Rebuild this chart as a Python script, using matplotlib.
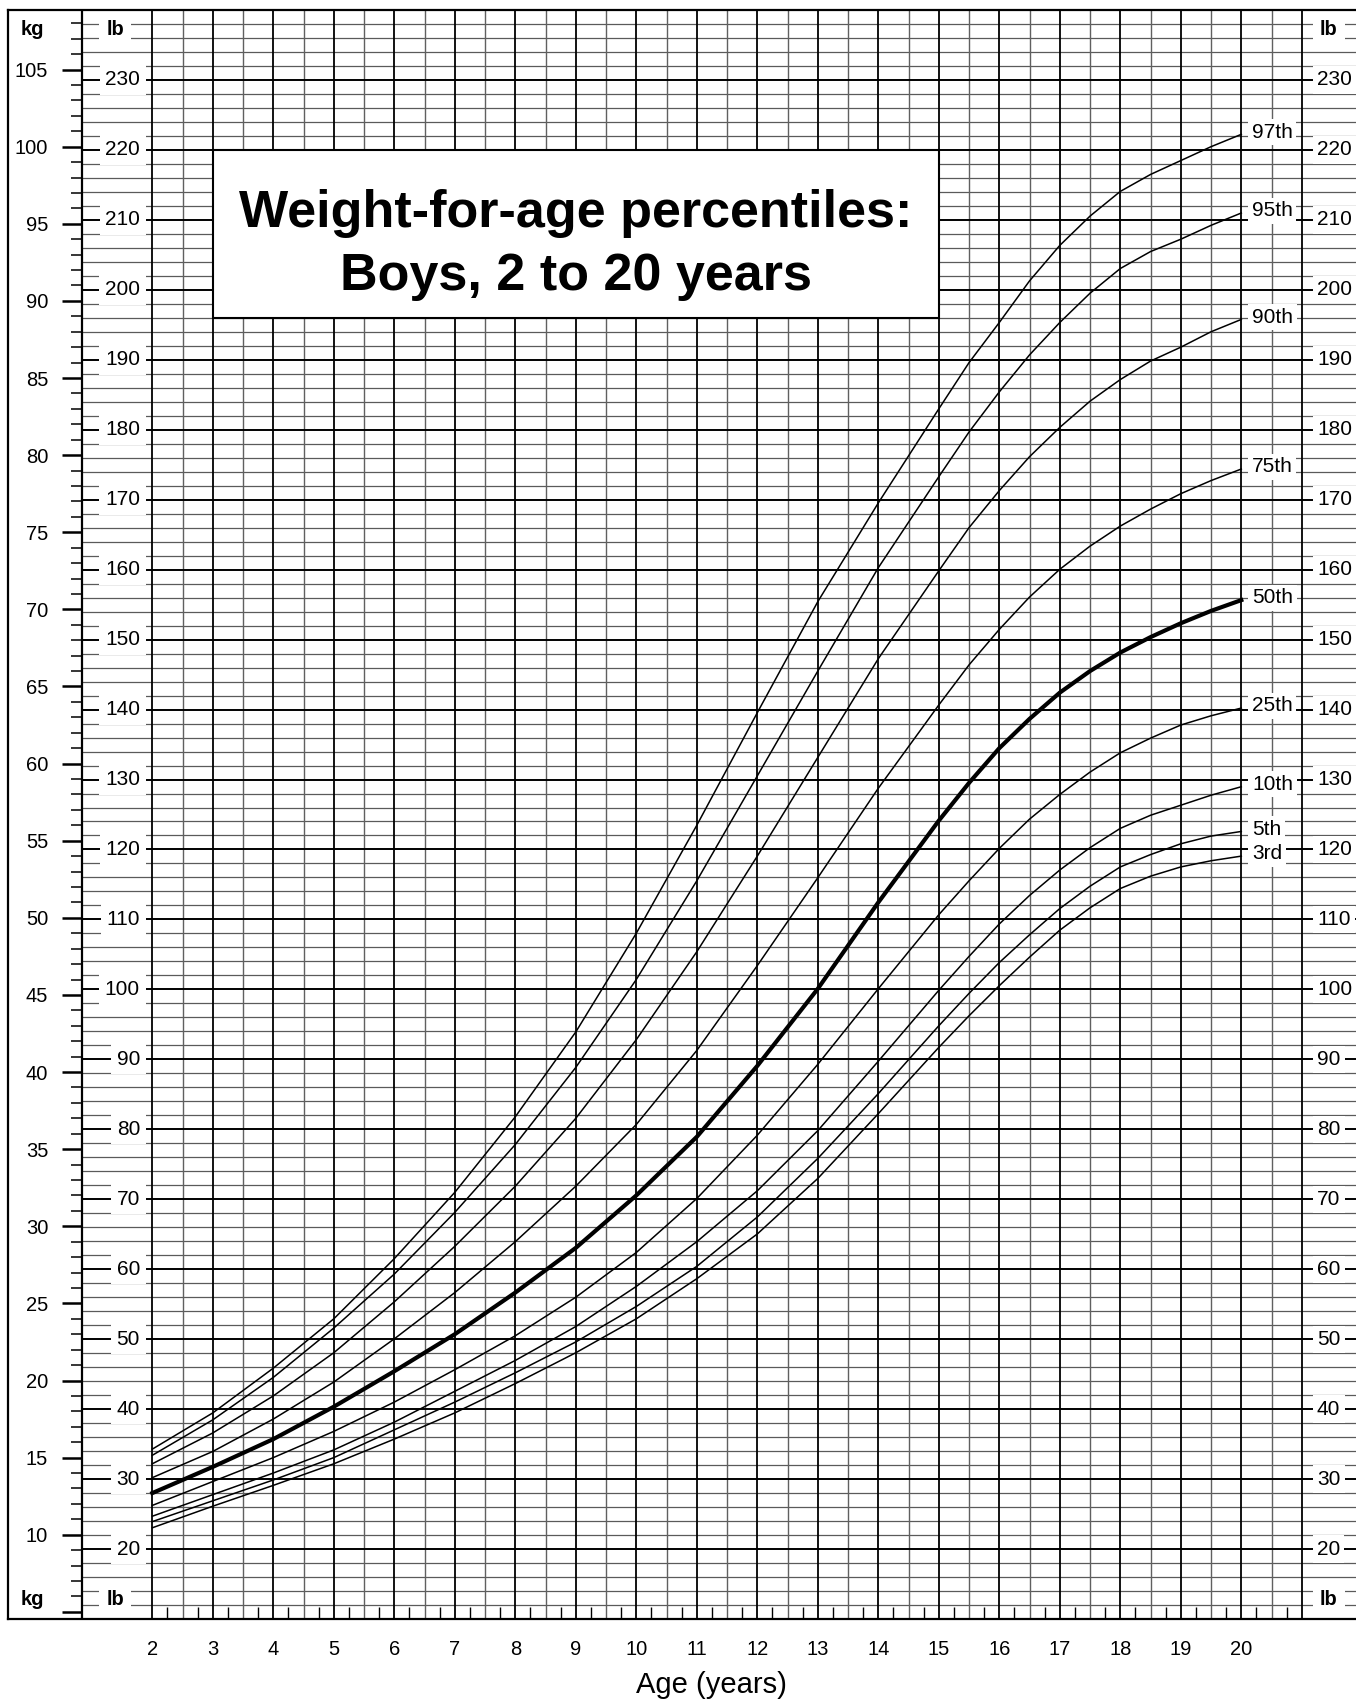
import matplotlib
matplotlib.use("Agg")
import matplotlib.pyplot as plt
from matplotlib.patches import Rectangle
from matplotlib.ticker import FixedLocator, FixedFormatter, NullFormatter, NullLocator

plt.rcParams['font.family'] = ['Liberation Sans', 'DejaVu Sans']

# ---------------- data (kg) ----------------
ages = [2, 3, 4, 5, 6, 7, 8, 9, 10, 11, 12, 13, 14, 15, 15.5, 16, 16.5, 17, 17.5, 18, 18.5, 19, 19.5, 20]
p3 = [10.45, 11.85, 13.2, 14.6, 16.2, 17.9, 19.8, 21.8, 24.0, 26.6, 29.5, 33.1, 37.3, 41.6,
      43.65, 45.6, 47.45, 49.2, 50.65, 51.9, 52.7, 53.3, 53.7, 54.0]
p5 = [10.85, 12.2, 13.55, 15.0, 16.8, 18.6, 20.5, 22.5, 24.8, 27.4, 30.6, 34.4, 38.6, 43.0,
      45.1, 47.1, 48.9, 50.6, 52.05, 53.3, 54.1, 54.8, 55.3, 55.6]
p10 = [11.2, 12.6, 14.0, 15.5, 17.3, 19.3, 21.3, 23.5, 26.1, 29.0, 32.3, 36.2, 40.7, 45.3,
       47.5, 49.6, 51.45, 53.1, 54.55, 55.8, 56.65, 57.3, 57.95, 58.5]
p25 = [11.9, 13.45, 15.0, 16.7, 18.6, 20.7, 22.9, 25.4, 28.3, 31.8, 35.9, 40.5, 45.4, 50.2,
       52.4, 54.5, 56.4, 58.0, 59.45, 60.7, 61.65, 62.5, 63.1, 63.6]
p50 = [12.7, 14.4, 16.2, 18.3, 20.6, 23.0, 25.7, 28.6, 32.0, 35.8, 40.4, 45.4, 51.0, 56.3,
       58.75, 61.0, 62.9, 64.6, 66.0, 67.2, 68.2, 69.1, 69.9, 70.6]
p75 = [13.7, 15.4, 17.5, 19.9, 22.7, 25.7, 29.0, 32.6, 36.6, 41.4, 46.9, 52.6, 58.4, 63.8,
       66.4, 68.7, 70.8, 72.6, 74.1, 75.4, 76.5, 77.5, 78.35, 79.1]
p90 = [14.6, 16.6, 19.0, 21.8, 25.1, 28.7, 32.6, 37.0, 42.1, 47.8, 54.0, 60.4, 66.8, 72.5,
       75.3, 77.7, 79.9, 81.8, 83.5, 84.9, 86.1, 87.0, 88.0, 88.8]
p95 = [15.15, 17.45, 20.2, 23.4, 26.9, 30.9, 35.3, 40.3, 46.0, 52.4, 59.2, 66.0, 72.7, 78.6,
       81.5, 84.1, 86.5, 88.6, 90.5, 92.1, 93.2, 94.0, 94.9, 95.7]
p97 = [15.55, 17.9, 20.8, 24.0, 27.9, 32.2, 37.1, 42.6, 49.0, 56.0, 63.3, 70.5, 76.9, 83.0,
       86.0, 88.6, 91.3, 93.6, 95.5, 97.1, 98.2, 99.1, 100.0, 100.8]
percentile_names = ['3rd', '5th', '10th', '25th', '50th', '75th', '90th', '95th', '97th']
series = [p3, p5, p10, p25, p50, p75, p90, p95, p97]

kg_labels = [10, 15, 20, 25, 30, 35, 40, 45, 50, 55, 60, 65, 70, 75, 80, 85, 90, 95, 100, 105]
lb_labels = [20, 30, 40, 50, 60, 70, 80, 90, 100, 110, 120, 130, 140, 150,
             160, 170, 180, 190, 200, 210, 220, 230]
age_labels = [2, 3, 4, 5, 6, 7, 8, 9, 10, 11, 12, 13, 14, 15, 16, 17, 18, 19, 20]
title_lines = ["Weight-for-age percentiles:", "Boys, 2 to 20 years"]
x_title = "Age (years)"

LB_PER_KG = 2.20462

# ---------------- geometry ----------------
W, H = 1356, 1702
X0_PX, X1_PX = 8, 1356
Y_TOP_PX, Y_BOT_PX = 10, 1619
AGE2_PX, PX_PER_YEAR = 152.3, 60.5
LB_MIN, LB_MAX = 10, 240


def age_at(px):
    return 2 + (px - AGE2_PX) / PX_PER_YEAR


def lb_at(py):
    return LB_MAX - (py - Y_TOP_PX) * (LB_MAX - LB_MIN) / (Y_BOT_PX - Y_TOP_PX)


fig = plt.figure(figsize=(W / 100, H / 100), dpi=100)
ax = fig.add_axes([X0_PX / W, 1 - Y_BOT_PX / H, (X1_PX - X0_PX) / W, (Y_BOT_PX - Y_TOP_PX) / H])
xlim = (age_at(X0_PX), age_at(X1_PX))
ax.set_xlim(xlim)
ax.set_ylim(LB_MIN, LB_MAX)

divider_x = age_at(81.7)

# horizontal grid (every 2 lb, darker every 10 lb)
minor_h = [v for v in range(12, 240, 2) if v % 10 != 0]
major_h = [v for v in range(20, 240, 10)]
ax.hlines(minor_h, divider_x, xlim[1], color='#5a5a5a', lw=0.9, zorder=1)
ax.hlines(major_h, divider_x, xlim[1], color='black', lw=1.4, zorder=1.2)

# vertical grid (every half year, darker every year)
half_years = [a + 0.5 for a in range(2, 21)]
whole_years = list(range(2, 22))
ax.vlines(half_years, LB_MIN, LB_MAX, color='#606060', lw=1.0, zorder=1.1)
ax.vlines(whole_years, LB_MIN, LB_MAX, color='black', lw=1.3, zorder=1.3)
ax.vlines([divider_x], LB_MIN, LB_MAX, color='black', lw=1.6, zorder=1.3)

for s in ['left', 'top', 'bottom']:
    ax.spines[s].set_linewidth(1.6)
ax.spines['right'].set_visible(False)

# title box
ax.add_patch(Rectangle((3, 196), 12, 24, facecolor='white', edgecolor='black', lw=1.5, zorder=3))
ax.text(9, lb_at(227), title_lines[0], ha='center', va='baseline', fontsize=37.5,
        fontweight='bold', zorder=4)
ax.text(9, lb_at(290), title_lines[1], ha='center', va='baseline', fontsize=37.5,
        fontweight='bold', zorder=4)

# x axis
ax.xaxis.set_major_locator(FixedLocator(age_labels))
ax.xaxis.set_major_formatter(FixedFormatter([str(a) for a in age_labels]))
ax.xaxis.set_minor_locator(FixedLocator([a + q for a in range(2, 21) for q in (0.25, 0.75)]))
ax.tick_params(axis='x', which='major', length=0, pad=15, labelsize=14.5)
ax.tick_params(axis='x', which='minor', direction='in', length=8.6, width=1.0, color='black')
fig.text(711 / W, 1 - 1685 / H, x_title, ha='center', va='center', fontsize=21)

# lb labels (left and right columns)
for v in lb_labels:
    ax.text(age_at(140), v, str(v), ha='right', va='center', fontsize=15,
            bbox=dict(facecolor='white', edgecolor='none', pad=4), zorder=4)
    ax.text(age_at(1317), v, str(v), ha='left', va='center', fontsize=15,
            bbox=dict(facecolor='white', edgecolor='none', pad=3), zorder=4)
for yy in (lb_at(29.5), lb_at(1600)):
    ax.text(age_at(115), yy, 'lb', ha='center', va='center', fontsize=14.5, fontweight='bold',
            bbox=dict(facecolor='white', edgecolor='none', pad=5), zorder=4)
    ax.text(age_at(1329), yy, 'lb', ha='center', va='center', fontsize=14.5, fontweight='bold',
            bbox=dict(facecolor='white', edgecolor='none', pad=5), zorder=4)
    ax.text(age_at(32), yy, 'kg', ha='center', va='center', fontsize=14.5, fontweight='bold',
            zorder=4)

# kg axis (twin) carrying the curves
axk = ax.twinx()
ax.yaxis.set_major_locator(NullLocator())
ax.yaxis.set_minor_locator(NullLocator())
ax.tick_params(axis='y', which='both', left=False, labelleft=False, right=False, labelright=False)

axk.set_ylim(LB_MIN / LB_PER_KG, LB_MAX / LB_PER_KG)
axk.patch.set_visible(False)
for s in axk.spines.values():
    s.set_visible(False)
axk.spines['left'].set_position(('data', divider_x))
axk.yaxis.set_ticks_position('left')
major_kg = [5] + kg_labels
axk.yaxis.set_major_locator(FixedLocator(major_kg))
axk.yaxis.set_major_formatter(FixedFormatter([''] + [str(k) for k in kg_labels]))
axk.yaxis.set_minor_locator(FixedLocator([k for k in range(6, 109) if k % 5 != 0]))
axk.yaxis.set_minor_formatter(NullFormatter())
axk.tick_params(axis='y', which='major', direction='out', length=14.2, width=1.8,
                pad=9.9, labelsize=14.5, left=True, labelleft=True, right=False, labelright=False)
axk.tick_params(axis='y', which='minor', direction='out', length=7.7, width=1.1,
                left=True, right=False)

for name, vals in zip(percentile_names, series):
    lw = 3.0 if name == '50th' else 1.1
    axk.plot(ages, vals, color='black', lw=lw, zorder=5, solid_joinstyle='round')
    axk.text(age_at(1252), vals[-1] + 0.15, name, ha='left', va='center', fontsize=15,
             bbox=dict(facecolor='white', edgecolor='none', pad=2.5), zorder=6)

fig.savefig('out.png', dpi=100, facecolor='white')
